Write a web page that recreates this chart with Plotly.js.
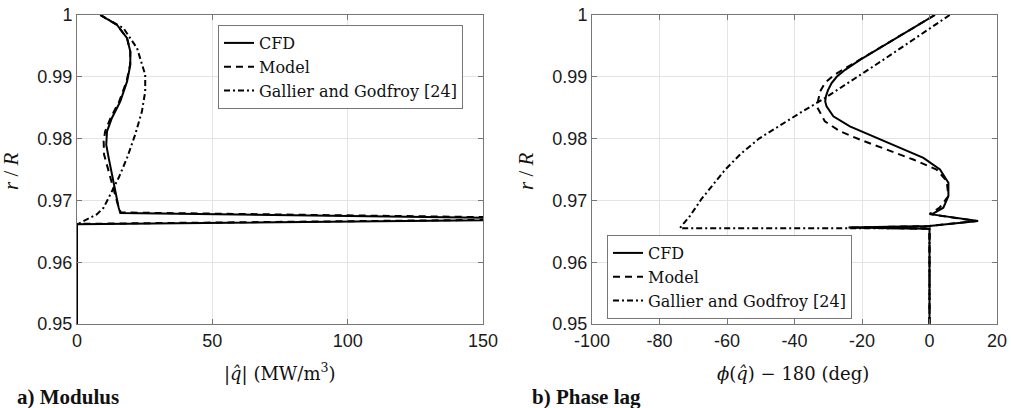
<!DOCTYPE html>
<html>
<head>
<meta charset="utf-8">
<script src="https://cdn.plot.ly/plotly-3.0.1.min.js"></script>
<style>html,body{margin:0;padding:0;background:#fff;}</style>
</head>
<body>
<div id="chart" style="width:1011px;height:408px;"></div>
<script>
// ---- a) Modulus: |q^| (MW/m^3) versus r/R ----
const modCfdR   = [1.0, 0.99839, 0.99624, 0.99409, 0.99194, 0.98925, 0.98602, 0.98333, 0.98118, 0.97903, 0.97688, 0.97419, 0.97150, 0.96882, 0.96795, 0.96720, 0.96700, 0.96680, 0.96613, 0.95];
const modCfdQ   = [8.6, 14.8, 18.5, 19.7, 19.7, 18.5, 16.0, 12.9, 11.1, 10.8, 11.7, 12.9, 14.2, 15.4, 16.0, 150, 152, 150, 0, 0];
const modModelR = [1.0, 0.99839, 0.99624, 0.99409, 0.99194, 0.98925, 0.98602, 0.98333, 0.98118, 0.97957, 0.97742, 0.97419, 0.97204, 0.96882, 0.96805, 0.96730, 0.96705, 0.96685, 0.96620, 0.95];
const modModelQ = [8.6, 14.8, 18.5, 19.7, 19.6, 18.3, 15.6, 12.4, 10.4, 9.85, 10.0, 12.0, 13.5, 15.4, 16.2, 150, 152, 150, 0, 0];
const modGalR   = [1.0, 0.99785, 0.99462, 0.99032, 0.98763, 0.98441, 0.98065, 0.97688, 0.97366, 0.97097, 0.96882, 0.96774, 0.96610, 0.95];
const modGalQ   = [8.6, 17.2, 22.2, 25.2, 25.2, 24.0, 21.5, 18.5, 15.4, 12.3, 9.85, 7.3, 0, 0];

// ---- b) Phase lag: phi(q^) - 180 (deg) versus r/R ----
const phCfdR     = [1.0, 0.99274, 0.99113, 0.99000, 0.98898, 0.98780, 0.98683, 0.98600, 0.98521, 0.98360, 0.98199, 0.98037, 0.97850, 0.97688, 0.97500, 0.97285, 0.97070, 0.96882, 0.96774, 0.96666, 0.96585, 0.96560, 0.96540, 0.95];
const phCfdPhi   = [1.6, -20.6, -25.0, -27.5, -29.0, -30.1, -30.7, -30.9, -30.5, -28.5, -23.6, -16.6, -8.7, -1.8, 3.1, 5.6, 5.6, 4.1, 0.65, 14.4, 0, -24, 0, 0];
const phModelR   = [1.0, 0.99274, 0.99120, 0.99032, 0.98900, 0.98763, 0.98521, 0.98279, 0.98118, 0.97984, 0.97823, 0.97661, 0.97500, 0.97312, 0.97070, 0.96882, 0.96780, 0.96666, 0.96585, 0.96560, 0.96540, 0.95];
const phModelPhi = [1.6, -20.8, -25.6, -28.2, -31.0, -32.4, -33.4, -31.0, -26.5, -20.6, -12.7, -4.8, 2.1, 5.1, 5.6, 3.0, 0.0, 14.0, 0, -24, 0, 0];
const phGalR     = [1.0, 0.99274, 0.98656, 0.98414, 0.98000, 0.97750, 0.97500, 0.97250, 0.97020, 0.96850, 0.96747, 0.96650, 0.96548, 0.96548, 0.95];
const phGalPhi   = [6.0, -13.7, -31.0, -38.4, -50.5, -56.0, -60.5, -64.3, -67.6, -69.7, -71.0, -72.5, -74.0, 0, 0];

const seriesNames = ['CFD', 'Model', 'Gallier and Godfroy [24]'];
const rTicks = [0.95, 0.96, 0.97, 0.98, 0.99, 1];
const rTickText = ['0.95', '0.96', '0.97', '0.98', '0.99', '1'];
const qTicks = [0, 50, 100, 150];
const qTickText = ['0', '50', '100', '150'];
const phiTicks = [-100, -80, -60, -40, -20, 0, 20];
const phiTickText = ['-100', '-80', '-60', '-40', '-20', '0', '20'];

const W = 1011, H = 408, ML = 77, MR = 14, MT = 15, MB = 84;
const PW = W - ML - MR, PH = H - MT - MB;
const px = v => (v - ML) / PW;
const py = v => (H - MB - v) / PH;

const styles = [
  {color: '#000', width: 2, dash: 'solid'},
  {color: '#000', width: 2, dash: '7px,5px'},
  {color: '#000', width: 2, dash: '6px,3px,2px,3px'}
];

const traces = [];
const modX = [modCfdQ, modModelQ, modGalQ], modY = [modCfdR, modModelR, modGalR];
const phX = [phCfdPhi, phModelPhi, phGalPhi], phY = [phCfdR, phModelR, phGalR];
for (let i = 0; i < 3; i++) {
  traces.push({x: modX[i], y: modY[i], xaxis: 'x', yaxis: 'y', mode: 'lines', name: seriesNames[i], line: styles[i], legend: 'legend', showlegend: true});
}
for (let i = 0; i < 3; i++) {
  traces.push({x: phX[i], y: phY[i], xaxis: 'x2', yaxis: 'y2', mode: 'lines', name: seriesNames[i], line: styles[i], legend: 'legend2', showlegend: true});
}

const tickFont = {family: 'Liberation Sans, Arial, sans-serif', size: 18, color: '#1a1a1a'};
const serif = 'Liberation Serif, Times New Roman, serif';
const serifWide = 'DejaVu Serif, serif';
const axBase = {
  showline: true, linecolor: '#777', linewidth: 1, mirror: 'ticks',
  ticks: 'inside', ticklen: 5, tickcolor: '#777',
  showgrid: true, gridcolor: '#e4e4e4', gridwidth: 1,
  zeroline: false, tickfont: tickFont, fixedrange: true
};
const legBase = {
  font: {family: serifWide, size: 16, color: '#111'},
  bgcolor: '#fff', bordercolor: '#777', borderwidth: 1,
  xanchor: 'left', itemwidth: 30, tracegroupgap: 0
};

const layout = {
  width: W, height: H,
  margin: {l: ML, r: MR, t: MT, b: MB, pad: 0},
  paper_bgcolor: '#fff', plot_bgcolor: '#fff',
  showlegend: true,
  xaxis: Object.assign({}, axBase, {domain: [0, px(483)], range: [0, 150], tickvals: qTicks, ticktext: qTickText, anchor: 'y'}),
  yaxis: Object.assign({}, axBase, {domain: [0, 1], range: [0.95, 1], tickvals: rTicks, ticktext: rTickText, anchor: 'x'}),
  xaxis2: Object.assign({}, axBase, {domain: [px(592), 1], range: [-100, 20], tickvals: phiTicks, ticktext: phiTickText, anchor: 'y2'}),
  yaxis2: Object.assign({}, axBase, {domain: [0, 1], range: [0.95, 1], tickvals: rTicks, ticktext: rTickText, anchor: 'x2'}),
  legend: Object.assign({}, legBase, {x: px(218), y: py(25), yanchor: 'top'}),
  legend2: Object.assign({}, legBase, {x: px(607), y: py(319), yanchor: 'bottom'}),
  annotations: [
    {xref: 'paper', yref: 'paper', x: px(280), y: py(372), xanchor: 'center', yanchor: 'middle', showarrow: false,
     text: '|<i>q̂</i>| (MW/m<sup>3</sup>)', font: {family: serifWide, size: 18, color: '#111'}},
    {xref: 'paper', yref: 'paper', x: px(793), y: py(373), xanchor: 'center', yanchor: 'middle', showarrow: false,
     text: '<i>ϕ</i>(<i>q̂</i>) − 180 (deg)', font: {family: serifWide, size: 18, color: '#111'}},
    {xref: 'paper', yref: 'paper', x: px(11), y: py(171), xanchor: 'center', yanchor: 'middle', showarrow: false, textangle: -90,
     text: '<i>r</i> / <i>R</i>', font: {family: serif, size: 21, color: '#111'}},
    {xref: 'paper', yref: 'paper', x: px(526), y: py(171), xanchor: 'center', yanchor: 'middle', showarrow: false, textangle: -90,
     text: '<i>r</i> / <i>R</i>', font: {family: serif, size: 21, color: '#111'}},
    {xref: 'paper', yref: 'paper', x: px(15), y: py(397), xanchor: 'left', yanchor: 'middle', showarrow: false,
     text: '<b>a) Modulus</b>', font: {family: serif, size: 21, color: '#111'}},
    {xref: 'paper', yref: 'paper', x: px(530), y: py(397), xanchor: 'left', yanchor: 'middle', showarrow: false,
     text: '<b>b) Phase lag</b>', font: {family: serif, size: 21, color: '#111'}}
  ]
};

Plotly.newPlot('chart', traces, layout, {displayModeBar: false, staticPlot: true});
</script>
</body>
</html>
